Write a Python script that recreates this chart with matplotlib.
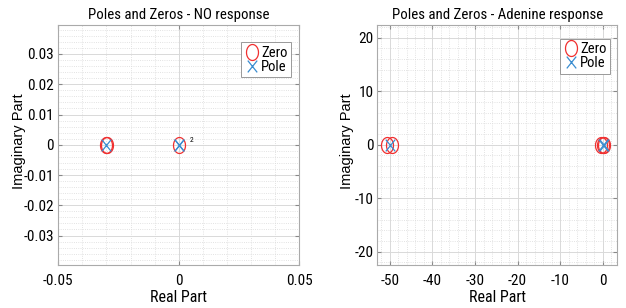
import matplotlib
matplotlib.use('Agg')
import matplotlib.pyplot as plt
from matplotlib.ticker import MultipleLocator
from matplotlib.path import Path
import numpy as np

plt.rcParams['font.family'] = ['Roboto Condensed', 'Liberation Sans', 'DejaVu Sans']
plt.rcParams['font.stretch'] = 'condensed'
plt.rcParams['axes.unicode_minus'] = False

# NO response
no_zeros_re = [-0.0301, -0.0299, 0.0]
no_zeros_im = [0.0, 0.0, 0.0]
no_poles_re = [-0.0300, 0.0, 0.0]
no_poles_im = [0.0, 0.0, 0.0]

# Adenine response
ad_zeros_re = [-50.6, -49.6, -0.5, 0.0, 0.3]
ad_zeros_im = [0.0, 0.0, 0.0, 0.0, 0.0]
ad_poles_re = [-50.0, 0.0, 0.3]
ad_poles_im = [0.0, 0.0, 0.0]

RED = '#F03030'
BLUE = '#3A8DD0'
GRID = '#d9d9d9'

# slightly tall markers, as in the reference
t = np.linspace(0, 2 * np.pi, 60)
ELLIPSE = Path(np.column_stack([0.75 * np.cos(t), np.sin(t)]), closed=True)
CROSS = Path([(-0.8, -1), (0.8, 1), (-0.8, 1), (0.8, -1)],
             [Path.MOVETO, Path.LINETO, Path.MOVETO, Path.LINETO])


def pz_axes(ax, zr, zi, pr, pi_, title, xlim, ylim, xmaj, xmin, ymaj, ymin,
            leg_anchor, ylab_x):
    ax.set_xlim(*xlim)
    ax.set_ylim(*ylim)
    ax.xaxis.set_major_locator(MultipleLocator(xmaj))
    ax.xaxis.set_minor_locator(MultipleLocator(xmin))
    ax.yaxis.set_major_locator(MultipleLocator(ymaj))
    ax.yaxis.set_minor_locator(MultipleLocator(ymin))
    ax.grid(which='major', color=GRID, lw=0.7, ls='-')
    ax.grid(which='minor', color=GRID, lw=0.6, ls=':')
    ax.axhline(0, color='#b5cfe8', lw=0.7, ls=':', zorder=1)
    ax.axvline(0, color='#b5cfe8', lw=0.7, ls=':', zorder=1)
    ax.plot(zr, zi, marker=ELLIPSE, mfc='none', mec=RED, ms=11.5, mew=0.9, ls='none',
            label='Zero', zorder=3)
    ax.plot(pr, pi_, marker=CROSS, color=BLUE, ms=8.5, mew=0.9, ls='none', label='Pole', zorder=4)
    ax.tick_params(which='both', direction='in', top=True, right=True, labelsize=11,
                   color='#888888', length=3)
    ax.tick_params(axis='x', pad=7)
    ax.tick_params(axis='y', pad=3)
    ax.tick_params(which='minor', length=0)
    for s in ax.spines.values():
        s.set_color('#aaaaaa')
        s.set_linewidth(0.8)
    ax.set_title(title, fontsize=10.7, pad=4)
    ax.set_xlabel('Real Part', fontsize=11.5, labelpad=1)
    ax.set_ylabel('Imaginary Part', fontsize=10.5,
                  family=['Liberation Sans'], fontstretch='normal')
    ax.yaxis.set_label_coords(ylab_x, 0.515)
    leg = ax.legend(loc='upper right', fontsize=10.5, handletextpad=0.15, borderpad=0.25,
                    handlelength=1.0, labelspacing=0.0, fancybox=False, framealpha=1,
                    borderaxespad=0, bbox_to_anchor=leg_anchor)
    leg.get_frame().set_edgecolor('#999999')
    leg.get_frame().set_linewidth(0.7)


fig = plt.figure(figsize=(6.26, 3.08), dpi=100)
ax1 = fig.add_axes([0.093, 0.141, 0.385, 0.778])
ax2 = fig.add_axes([0.603, 0.141, 0.383, 0.778])

pz_axes(ax1, no_zeros_re, no_zeros_im, no_poles_re, no_poles_im,
        'Poles and Zeros - NO response', (-0.05, 0.05), (-0.0396, 0.0396),
        0.05, 0.01, 0.01, 0.002, (0.967, 0.929), -0.133)
fmt = plt.FuncFormatter(lambda v, p: '0' if abs(v) < 1e-9 else f'{v:g}')
ax1.yaxis.set_major_formatter(fmt)
ax1.xaxis.set_major_formatter(fmt)
ax1.text(0.0045, 0.0008, '2', fontsize=5.5)

pz_axes(ax2, ad_zeros_re, ad_zeros_im, ad_poles_re, ad_poles_im,
        'Poles and Zeros - Adenine response', (-52.9, 3.4), (-22.4, 22.4),
        10, 2, 10, 2, (0.97, 0.942), -0.099)

fig.savefig('out.png', dpi=100)
